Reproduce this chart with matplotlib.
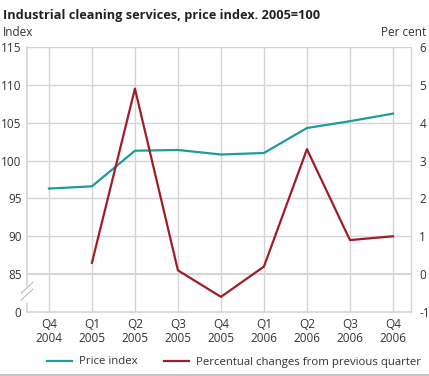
import matplotlib
matplotlib.use('Agg')
import matplotlib.pyplot as plt
from matplotlib.lines import Line2D

plt.rcParams['font.family'] = ['Open Sans', 'DejaVu Sans']

# ─── data ───
quarters = ['Q4\n2004', 'Q1\n2005', 'Q2\n2005', 'Q3\n2005', 'Q4\n2005',
            'Q1\n2006', 'Q2\n2006', 'Q3\n2006', 'Q4\n2006']
price_index = [96.3, 96.6, 101.3, 101.4, 100.8, 101.0, 104.3, 105.2, 106.2]
pct_change = [None, 0.3, 4.9, 0.1, -0.6, 0.2, 3.3, 0.9, 1.0]

left_ticks = [80, 85, 90, 95, 100, 105, 110, 115]
left_labels = ['0', '85', '90', '95', '100', '105', '110', '115']
right_ticks = [-1, 0, 1, 2, 3, 4, 5, 6]

teal = '#1c9c9c'
red = '#a01c28'
grid_c = '#d4d4d4'
text_c = '#333333'

fig = plt.figure(figsize=(4.29, 3.76), dpi=100)
ax = fig.add_axes([27 / 429, 1 - 312 / 376, (411 - 27) / 429, (312 - 47) / 376])
ax2 = ax.twinx()

x = list(range(len(quarters)))
ax.set_xlim(-0.51, 8.42)
ax.set_ylim(80, 115)
ax2.set_ylim(-1, 6)

# grid
for v in left_ticks[1:]:
    ax.axhline(v, color=grid_c, lw=1.0 if v != 85 else 1.4, zorder=0)
for xi in x:
    ax.axvline(xi, color=grid_c, lw=1.0, zorder=0)

ax.plot(x, price_index, color=teal, lw=1.6, zorder=3)
xs = [xi for xi, v in zip(x, pct_change) if v is not None]
ys = [v for v in pct_change if v is not None]
ax2.plot(xs, ys, color=red, lw=1.6, zorder=3)

ax.set_xticks(x)
ax.set_xticklabels(quarters, fontsize=8.5, color=text_c, linespacing=1.15)
ax.set_yticks(left_ticks)
ax.set_yticklabels(left_labels, fontsize=8.5, color=text_c)
ax2.set_yticks(right_ticks)
ax2.set_yticklabels([str(t) for t in right_ticks], fontsize=8.5, color=text_c)
ax.tick_params(length=0, pad=4)
ax2.tick_params(length=0, pad=6)

for a in (ax, ax2):
    for s in a.spines.values():
        s.set_visible(False)
ax.spines['bottom'].set_visible(True)
ax.spines['bottom'].set_color(grid_c)
ax.spines['bottom'].set_linewidth(1.2)
ax2.spines['right'].set_visible(True)
ax2.spines['right'].set_color(grid_c)
ax2.spines['right'].set_linewidth(1.0)

# left spine with axis break
ax.plot([0, 0], [83.5, 115], transform=ax.get_yaxis_transform(),
        color=grid_c, lw=1.2, clip_on=False, zorder=1)
ax.plot([0, 0], [80, 81.2], transform=ax.get_yaxis_transform(),
        color=grid_c, lw=1.2, clip_on=False, zorder=1)
for dy in (0, 0.9):
    ax.plot([-0.015, 0.015], [81.6 + dy, 83.0 + dy],
            transform=ax.get_yaxis_transform(),
            color='#bbbbbb', lw=0.8, clip_on=False)

fig.text(3 / 429, 1 - 15 / 376, 'Industrial cleaning services, price index. 2005=100',
         fontsize=9.2, fontweight='bold', color='#222222', va='center', ha='left')
fig.text(3 / 429, 1 - 33 / 376, 'Index', fontsize=8.5, color=text_c, va='center', ha='left')
fig.text(426 / 429, 1 - 33 / 376, 'Per cent', fontsize=8.5, color=text_c, va='center', ha='right')

handles = [Line2D([], [], color=teal, lw=1.6), Line2D([], [], color=red, lw=1.6)]
fig.legend(handles, ['Price index', 'Percentual changes from previous quarter'],
           loc='center', bbox_to_anchor=(0.545, 1 - 362 / 376), ncol=2, frameon=False,
           fontsize=8.2, handlelength=2.2, columnspacing=2.3, handletextpad=0.6,
           labelcolor=text_c)

fig.add_artist(Line2D([0, 1], [1 - 375 / 376] * 2, color='#bbbbbb', lw=1.2,
                      transform=fig.transFigure))

fig.savefig('out.png', dpi=100)
